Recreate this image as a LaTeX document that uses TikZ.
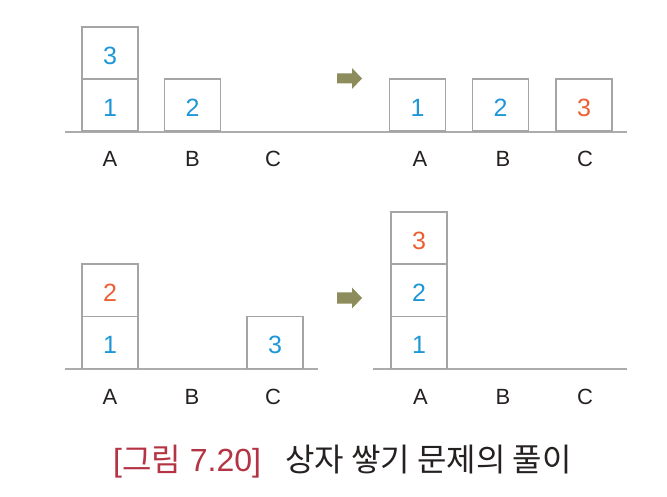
\documentclass[tikz,border=0pt]{standalone}
\usepackage{fontspec}
\setmainfont{Liberation Sans}
\newfontfamily\kr{Noto Sans CJK KR}
\definecolor{boxgray}{RGB}{165,165,165}
\definecolor{linegray}{RGB}{172,172,172}
\definecolor{numblue}{RGB}{30,150,215}
\definecolor{numorange}{RGB}{236,95,50}
\definecolor{arrowolive}{RGB}{140,140,92}
\definecolor{captred}{RGB}{180,52,68}
\definecolor{textdark}{RGB}{38,33,33}
\tikzset{
  blk/.style={draw=boxgray, line width=1.5pt, minimum width=56pt, minimum height=52pt,
    inner sep=0pt, font=\fontsize{25}{25}\selectfont, text height=22pt, text depth=0pt, anchor=south},
  blue/.style={text=numblue},
  orange/.style={text=numorange},
  ground/.style={draw=linegray, line width=1.5pt},
  lbl/.style={font=\fontsize{22}{22}\selectfont, text=textdark, anchor=base, inner sep=0pt},
  movearrow/.style={fill=arrowolive},
  capt/.style={anchor=base west, inner sep=0pt, font=\fontsize{32}{32}\selectfont}
}
\begin{document}
\begin{tikzpicture}[x=1pt,y=-1pt]
\useasboundingbox (0,0) rectangle (667,497);
% ---- top row ground (continuous)
\coordinate (tg1) at (65,132); \coordinate (tg2) at (627,132);
\draw[ground] (tg1) -- (tg2);
% ---- top-left
\node[blk,blue] (tl1) at (110,132) {1};
\node[blk,blue] (tl3) at (110,80) {3};
\node[blk,blue] (tl2) at (192.5,132) {2};
\node[lbl] (tla) at (110,167) {A};
\node[lbl] (tlb) at (192.5,167) {B};
\node[lbl] (tlc) at (273,167) {C};
% ---- top-right
\node[blk,blue] (tr1) at (417.5,132) {1};
\node[blk,blue] (tr2) at (500.5,132) {2};
\node[blk,orange] (tr3) at (584,132) {3};
\node[lbl] (tra) at (420,167) {A};
\node[lbl] (trb) at (503,167) {B};
\node[lbl] (trc) at (585,167) {C};
% ---- bottom-left
\coordinate (blg1) at (65,369); \coordinate (blg2) at (318,369);
\draw[ground] (blg1) -- (blg2);
\node[blk,blue] (bl1) at (110,369) {1};
\node[blk,orange] (bl2) at (110,317) {2};
\node[blk,blue] (bl3) at (275,369) {3};
\node[lbl] (bla) at (110,404) {A};
\node[lbl] (blb) at (192,404) {B};
\node[lbl] (blc) at (273,404) {C};
% ---- bottom-right
\coordinate (brg1) at (373,369); \coordinate (brg2) at (627,369);
\draw[ground] (brg1) -- (brg2);
\node[blk,blue] (br1) at (419,369) {1};
\node[blk,blue] (br2) at (419,317) {2};
\node[blk,orange] (br3) at (419,265) {3};
\node[lbl] (bra) at (420.5,404) {A};
\node[lbl] (brb) at (503,404) {B};
\node[lbl] (brc) at (585,404) {C};
% ---- arrows
\fill[movearrow] (337,73.5) -- (352,73.5) -- (352,68) -- (362,78.5) -- (352,89) -- (352,83.5) -- (337,83.5) -- cycle;
\fill[movearrow] (337,292.5) -- (352,292.5) -- (352,287.5) -- (362,298) -- (352,308.5) -- (352,303.5) -- (337,303.5) -- cycle;
% ---- caption
\node[capt, text=captred] (cap1) at (113,471) {[{\kr 그림} 7.20]};
\node[capt, text=textdark] (cap2) at (285,471) {\kr 상자 쌓기 문제의 풀이};
\end{tikzpicture}
\end{document}
